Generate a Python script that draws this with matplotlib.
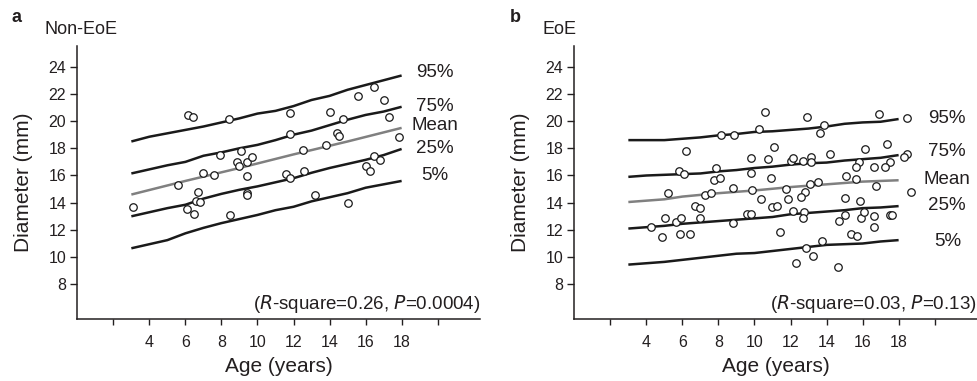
import matplotlib
matplotlib.use("Agg")
import matplotlib.pyplot as plt

plt.rcParams['font.family'] = ['Liberation Sans', 'DejaVu Sans']

# ---------------- data ----------------
ages = [3, 4, 5, 6, 7, 8, 9, 10, 11, 12, 13, 14, 15, 16, 17, 18]

a_p95 = [18.5, 18.85, 19.1, 19.35, 19.6, 19.9, 20.2, 20.55, 20.75, 21.1, 21.55, 21.85, 22.3, 22.65, 23.0, 23.35]
a_p75 = [16.15, 16.45, 16.75, 17.0, 17.45, 17.7, 18.0, 18.25, 18.6, 19.0, 19.3, 19.7, 20.1, 20.45, 20.7, 21.05]
a_mean_x = [3, 6, 9, 12, 15, 18]
a_mean = [14.6, 15.6, 16.55, 17.55, 18.5, 19.5]
a_p25 = [13.0, 13.3, 13.6, 13.85, 14.3, 14.65, 14.95, 15.2, 15.5, 15.8, 16.2, 16.55, 16.85, 17.15, 17.5, 17.95]
a_p5 = [10.65, 10.95, 11.25, 11.75, 12.15, 12.5, 12.8, 13.1, 13.45, 13.7, 14.1, 14.4, 14.7, 15.1, 15.35, 15.6]

a_age = [6.17, 6.4, 8.42, 11.79, 11.79, 14.03, 14.77, 14.4, 14.53, 15.57, 16.48, 17.0, 17.28, 17.83,
         13.81, 12.53, 7.94, 9.07, 8.89, 9.0, 9.41, 9.67, 9.42, 6.98, 7.61, 5.57, 11.61, 11.83, 12.56,
         16.03, 16.26, 16.44, 16.78, 3.11, 6.72, 6.59, 6.79, 6.09, 6.5, 8.46, 9.44, 9.44, 13.2, 15.02]
a_diam = [20.45, 20.33, 20.13, 20.57, 19.03, 20.65, 20.13, 19.15, 18.9, 21.82, 22.48, 21.55, 20.28, 18.85,
          18.27, 17.9, 17.48, 17.78, 17.02, 16.72, 17.02, 17.34, 15.99, 16.16, 16.01, 15.3, 16.11, 15.84, 16.33,
          16.7, 16.35, 17.43, 17.14, 13.71, 14.76, 14.15, 14.05, 13.51, 13.15, 13.1, 14.74, 14.57, 14.59, 13.98]

b_p95 = [18.6, 18.6, 18.6, 18.7, 18.8, 18.95, 19.05, 19.2, 19.25, 19.35, 19.45, 19.6, 19.8, 19.9, 19.95, 20.15]
b_p75 = [15.9, 16.0, 16.05, 16.1, 16.15, 16.3, 16.4, 16.55, 16.65, 16.8, 16.9, 16.95, 17.1, 17.2, 17.3, 17.5]
b_mean_x = [3, 5, 6, 8, 10, 12, 14, 16, 18]
b_mean = [14.05, 14.25, 14.45, 14.7, 14.9, 15.15, 15.35, 15.55, 15.65]
b_p25 = [12.1, 12.2, 12.3, 12.45, 12.55, 12.65, 12.75, 12.85, 12.95, 13.15, 13.25, 13.35, 13.45, 13.6, 13.65, 13.75]
b_p5 = [9.45, 9.55, 9.65, 9.8, 9.95, 10.1, 10.25, 10.3, 10.45, 10.6, 10.75, 10.9, 10.95, 11.0, 11.15, 11.25]

b_age = [10.6, 12.92, 16.89, 18.47, 10.25, 13.84, 13.66, 8.14, 8.85, 6.2, 11.07, 9.83, 10.73, 12.05, 12.14,
         12.69, 13.16, 13.16, 14.17, 16.14, 17.36, 18.47, 18.28, 17.54, 17.26, 16.65, 15.78, 15.64, 15.1, 15.64,
         16.74, 18.69, 5.79, 6.07, 7.88, 7.74, 8.07, 9.83, 10.94, 8.81, 9.86, 11.77, 13.06, 13.5, 12.82, 12.58,
         5.18, 7.23, 7.57, 10.37, 11.88, 15.04, 15.88, 6.7, 6.96, 4.26, 5.04, 5.63, 5.93, 4.87, 5.87, 6.4, 6.96,
         8.81, 9.58, 9.8, 10.98, 11.25, 11.44, 12.14, 12.73, 12.7, 12.88, 12.32, 13.23, 13.75, 14.62, 14.67,
         15.04, 15.38, 15.69, 15.91, 16.06, 16.61, 16.65, 17.54, 17.63]
b_diam = [20.65, 20.32, 20.52, 20.2, 19.44, 19.71, 19.1, 18.98, 18.98, 17.82, 18.12, 17.26, 17.21, 17.09, 17.31,
          17.09, 17.38, 16.97, 17.58, 17.93, 18.29, 17.6, 17.34, 17.02, 16.65, 16.65, 16.97, 16.65, 15.96, 15.72,
          15.25, 14.81, 16.35, 16.09, 16.53, 15.67, 15.79, 16.21, 15.79, 15.1, 14.93, 14.98, 15.37, 15.54, 14.81, 14.44,
          14.69, 14.57, 14.69, 14.25, 14.25, 14.37, 14.15, 13.76, 13.63, 12.24, 12.9, 12.6, 12.85, 11.5, 11.68, 11.7, 12.85,
          12.49, 13.15, 13.15, 13.71, 13.78, 11.87, 13.41, 13.29, 12.9, 10.65, 9.54, 10.08, 11.21, 9.29, 12.68,
          13.1, 11.7, 11.55, 12.85, 13.29, 13.04, 12.24, 13.1, 13.1]

curve_labels = ['95%', '75%', 'Mean', '25%', '5%']
a_label_y = [23.56, 21.1, 19.64, 18.0, 15.99]
b_label_y = [20.2, 17.8, 15.67, 13.83, 11.18]

xticks = [2, 4, 6, 8, 10, 12, 14, 16, 18, 20]
xticklabels = ['', '4', '6', '8', '10', '12', '14', '16', '18', '']
yticks = [8, 10, 12, 14, 16, 18, 20, 22, 24]

panels = [
    dict(tag='a', title='Non-EoE', p95=a_p95, p75=a_p75, mx=a_mean_x, mean=a_mean, p25=a_p25, p5=a_p5,
         age=a_age, diam=a_diam, ly=a_label_y, lx=19.85, r2='0.26', p='0.0004'),
    dict(tag='b', title='EoE', p95=b_p95, p75=b_p75, mx=b_mean_x, mean=b_mean, p25=b_p25, p5=b_p5,
         age=b_age, diam=b_diam, ly=b_label_y, lx=20.7, r2='0.03', p='0.13'),
]

W, H = 977, 381
fig = plt.figure(figsize=(W / 100, H / 100), dpi=100)
txt = '#231f20'
lefts = [77.3, 574.3]
ylab_x = [33, 530]
for pan, lp, yx in zip(panels, lefts, ylab_x):
    ax = fig.add_axes([lp / W, (H - 319.3) / H, 402.7 / W, 273.6 / H])
    ax.set_xlim(0, 22.35)
    ax.set_ylim(5.43, 25.54)
    for s in ['top', 'right']:
        ax.spines[s].set_visible(False)
    for s in ['left', 'bottom']:
        ax.spines[s].set_linewidth(1.1)
        ax.spines[s].set_color(txt)
    ax.set_xticks(xticks)
    ax.set_xticklabels(xticklabels)
    ax.set_yticks(yticks)
    ax.tick_params(axis='both', labelsize=11.5, colors=txt, width=1.0)
    ax.tick_params(axis='y', length=5, pad=3)
    ax.tick_params(axis='x', length=4.5, pad=7)
    ax.set_xlabel('Age (years)', fontsize=15, color=txt, labelpad=5)
    ax.set_ylabel('Diameter (mm)', fontsize=15, color=txt)
    ax.yaxis.set_label_coords((yx - lp) / 402.7, 0.5)

    for vals in [pan['p95'], pan['p75'], pan['p25'], pan['p5']]:
        ax.plot(ages, vals, color='#1a1a1a', lw=1.8, solid_capstyle='butt')
    ax.plot(pan['mx'], pan['mean'], color='#808080', lw=1.8, solid_capstyle='butt')
    ax.plot(pan['age'], pan['diam'], linestyle='none', marker='o', markersize=5.4,
            markerfacecolor='white', markeredgecolor='#1a1a1a', markeredgewidth=0.9, clip_on=False)

    for lab, y in zip(curve_labels, pan['ly']):
        ax.text(pan['lx'], y, lab, fontsize=13.5, color=txt, ha='center', va='center')

    ax.text(1.0, 0.055, '($\\it{R}$-square=' + pan['r2'] + ', $\\it{P}$=' + pan['p'] + ')',
            transform=ax.transAxes, ha='right', va='center', fontsize=13.5, color=txt)

fig.text(12 / W, 1 - 17 / H, 'a', fontsize=13, fontweight='bold', color=txt, va='center', ha='left')
fig.text(45 / W, 1 - 29 / H, 'Non-EoE', fontsize=13, color=txt, va='center', ha='left')
fig.text(510 / W, 1 - 17 / H, 'b', fontsize=13, fontweight='bold', color=txt, va='center', ha='left')
fig.text(543 / W, 1 - 29 / H, 'EoE', fontsize=13, color=txt, va='center', ha='left')

fig.savefig('out.png', dpi=100)
